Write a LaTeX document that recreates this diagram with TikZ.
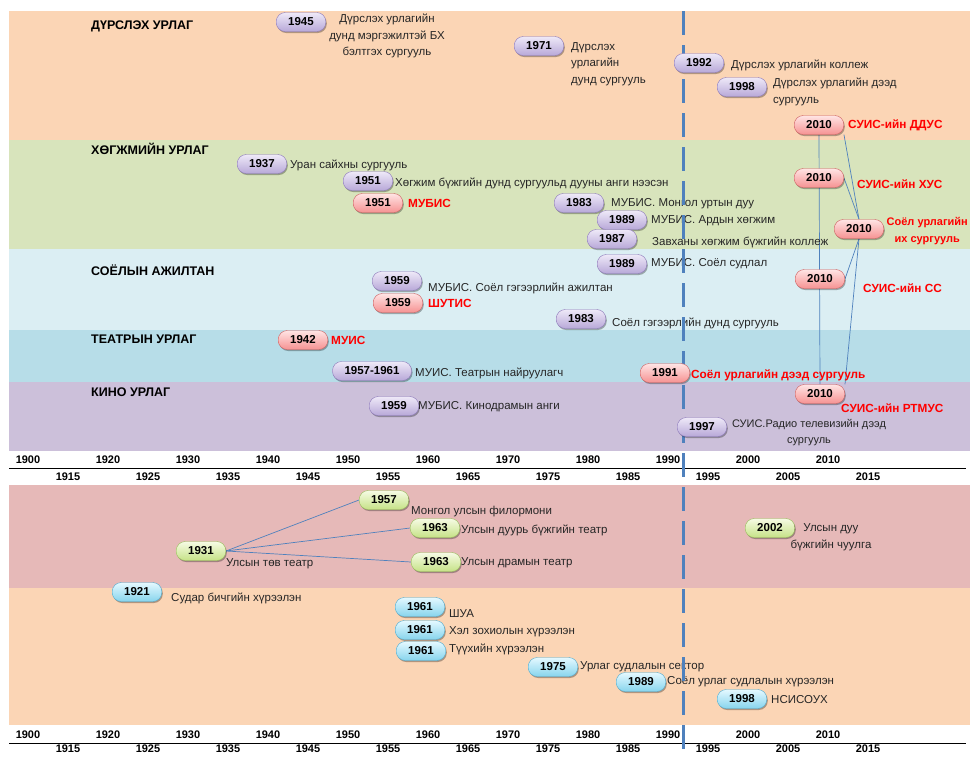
\documentclass[tikz,border=0pt]{standalone}
\usepackage{fontspec}
\setmainfont{Liberation Sans}
\usetikzlibrary{shadows}
\definecolor{bandpeach}{RGB}{251,213,181}
\definecolor{bandgreen}{RGB}{216,228,188}
\definecolor{bandsky}{RGB}{219,238,243}
\definecolor{bandblue}{RGB}{183,221,232}
\definecolor{bandlilac}{RGB}{204,192,218}
\definecolor{bandrose}{RGB}{230,185,184}
\definecolor{lineblue}{RGB}{79,129,189}
\definecolor{mnred}{RGB}{255,0,0}
\definecolor{violetA}{RGB}{238,233,248}
\definecolor{violetB}{RGB}{184,168,216}
\definecolor{violetD}{RGB}{140,120,185}
\definecolor{roseA}{RGB}{255,228,228}
\definecolor{roseB}{RGB}{246,146,146}
\definecolor{roseD}{RGB}{205,95,95}
\definecolor{limeA}{RGB}{246,251,228}
\definecolor{limeB}{RGB}{198,226,135}
\definecolor{limeD}{RGB}{150,190,90}
\definecolor{aquaA}{RGB}{228,249,255}
\definecolor{aquaB}{RGB}{135,212,236}
\definecolor{aquaD}{RGB}{80,170,205}
\pgfdeclarelayer{bands}
\pgfdeclarelayer{links}
\pgfsetlayers{bands,links,main}
\tikzset{
  pill/.style={rectangle, rounded corners=9pt, minimum width=48pt, minimum height=19pt,
    inner xsep=12pt, inner ysep=1pt, font=\fontsize{11.5}{13}\selectfont\bfseries,
    drop shadow={shadow xshift=1pt, shadow yshift=-1.5pt, fill=black, opacity=0.3}},
  vpill/.style={pill, draw=violetD, top color=violetA, bottom color=violetB},
  rpill/.style={pill, draw=roseD, top color=roseA, bottom color=roseB},
  gpill/.style={pill, draw=limeD, top color=limeA, bottom color=limeB},
  cpill/.style={pill, draw=aquaD, top color=aquaA, bottom color=aquaB},
  lbl/.style={anchor=west, inner sep=0pt, text=black!85, font=\fontsize{11.5}{16.5}\selectfont},
  rlbl/.style={lbl, text=mnred, font=\fontsize{11.8}{17.5}\selectfont\bfseries},
  grp/.style={anchor=west, inner sep=0pt, font=\fontsize{12.5}{14}\selectfont\bfseries},
  yr/.style={inner sep=0pt, font=\fontsize{11}{13}\selectfont\bfseries},
  link/.style={lineblue, line width=0.7pt}
}
\begin{document}
\begin{tikzpicture}[x=1pt, y=-1pt]
    \useasboundingbox (0,0) rectangle (970,756);
    \clip (0,0) rectangle (970,756);
    % bands
    \begin{pgfonlayer}{bands}
    \fill[bandpeach] (9,11) rectangle (970,140);
    \fill[bandgreen] (9,140) rectangle (970,249);
    \fill[bandsky] (9,249) rectangle (970,330);
    \fill[bandblue] (9,330) rectangle (970,382);
    \fill[bandlilac] (9,382) rectangle (970,451);
    \fill[bandrose] (9,485) rectangle (970,588);
    \fill[bandpeach] (9,588) rectangle (970,725);
    \end{pgfonlayer}
    \node[grp] (gdur) at (91,26) {ДҮРСЛЭХ УРЛАГ};
    \node[grp] (ghog) at (91,149) {ХӨГЖМИЙН УРЛАГ};
    \node[grp] (gsoy) at (91,270) {СОЁЛЫН АЖИЛТАН};
    \node[grp] (gtea) at (91,339) {ТЕАТРЫН УРЛАГ};
    \node[grp] (gkin) at (91,392) {КИНО УРЛАГ};
    % year axes
    \foreach \ty/\tb in {0/0,275/272} {
      \node[yr] (a\ty-1900) at (28,460+\ty) {1900};
      \foreach \yy [count=\k from 0] in {1920,1930,...,2010}
        \node[yr] (a\ty-\yy) at (108+80*\k,460+\ty) {\yy};
      \foreach \yy [count=\k from 0] in {1915,1925,...,2015}
        \node[yr] (a\ty-\yy) at (68+80*\k,477+\tb) {\yy};
      \draw[line width=1pt] (9,468+\ty) -- (966,468+\ty);
    }
    % labels
    \node[lbl, anchor=center, align=center] (l45) at (387,36) {Дүрслэх урлагийн\\дунд мэргэжилтэй БХ\\бэлтгэх сургууль};
    \node[lbl, align=left] (l71) at (571,64) {Дүрслэх\\урлагийн\\дунд сургууль};
    \node[lbl] (l92) at (731,65) {Дүрслэх урлагийн коллеж};
    \node[lbl, align=left] (l98) at (773,92) {Дүрслэх урлагийн дээд\\сургууль};
    \node[rlbl] (lddus) at (848,125) {СУИС-ийн ДДУС};
    \node[lbl] (l37) at (290,165) {Уран сайхны сургууль};
    \node[lbl] (l51) at (395,183) {Хөгжим бүжгийн дунд сургуульд дууны анги нээсэн};
    \node[rlbl] (lmubis) at (408,203) {МУБИС};
    \node[lbl] (l83) at (611,204) {МУБИС. Монгол уртын дуу};
    \node[lbl] (l89) at (651,221) {МУБИС. Ардын хөгжим};
    \node[lbl] (l87) at (652,242) {Завханы хөгжим бүжгийн коллеж};
    \node[rlbl] (lhus) at (857,184) {СУИС-ийн ХУС};
    \node[rlbl, anchor=east, align=center, font=\fontsize{11}{17.5}\selectfont\bfseries] (lsuis) at (968,231) {Соёл урлагийн\\их сургууль};
    \node[lbl] (ls89) at (651,264) {МУБИС. Соёл судлал};
    \node[lbl] (ls59) at (428,288) {МУБИС. Соёл гэгээрлийн ажилтан};
    \node[rlbl] (lshutis) at (428,303) {ШУТИС};
    \node[lbl] (ls83) at (612,323) {Соёл гэгээрлийн дунд сургууль};
    \node[rlbl] (lss) at (863,288) {СУИС-ийн СС};
    \node[rlbl] (lmuis) at (331,340) {МУИС};
    \node[lbl] (lt57) at (415,373) {МУИС. Театрын найруулагч};
    \node[rlbl] (lt91) at (691,375) {Соёл урлагийн дээд сургууль};
    \node[lbl] (lk59) at (418,407) {МУБИС. Кинодрамын анги};
    \node[rlbl] (lrtmus) at (841,408) {СУИС-ийн РТМУС};
    \node[lbl, anchor=center, align=center, font=\fontsize{11}{16}\selectfont] (lk97) at (809,433) {СУИС.Радио телевизийн дээд\\сургууль};
    \node[lbl] (ltov) at (226,564) {Улсын төв театр};
    \node[lbl] (lfil) at (411,512) {Монгол улсын филормони};
    \node[lbl] (lduur) at (461,530) {Улсын дуурь бүжгийн театр};
    \node[lbl] (ldram) at (461,563) {Улсын драмын театр};
    \node[lbl, anchor=center, align=center] (lchuulga) at (831,537) {Улсын дуу\\бүжгийн чуулга};
    \node[lbl] (lsudar) at (171,598) {Судар бичгийн хүрээлэн};
    \node[lbl] (lshua) at (449,614) {ШУА};
    \node[lbl] (lkhel) at (449,632) {Хэл зохиолын хүрээлэн};
    \node[lbl] (ltuukh) at (449,649) {Түүхийн хүрээлэн};
    \node[lbl] (lsektor) at (580,667) {Урлаг судлалын сектор};
    \node[lbl] (lsoyol) at (667,682) {Соёл урлаг судлалын хүрээлэн};
    \node[lbl] (lnsis) at (771,700) {НСИСОУХ};
    % 1992 marker
    \draw[lineblue, line width=3pt, dash pattern=on 24pt off 10pt] (683,11) -- (683,756);
    % pills
    \node[vpill] (d45) at (301,22) {1945};
    \node[vpill] (d71) at (539,46) {1971};
    \node[vpill] (d92) at (699,63) {1992};
    \node[vpill] (d98) at (742,87) {1998};
    \node[rpill] (ddus) at (819,125) {2010};
    \node[vpill] (h37) at (262,164) {1937};
    \node[vpill] (h51) at (368,181) {1951};
    \node[rpill] (mubis) at (378,203) {1951};
    \node[vpill] (h83) at (579,203) {1983};
    \node[vpill] (h89) at (622,220) {1989};
    \node[vpill] (h87) at (612,239) {1987};
    \node[rpill] (hus) at (819,178) {2010};
    \node[rpill] (suis) at (859,229) {2010};
    \node[vpill] (s89) at (622,264) {1989};
    \node[vpill] (s59) at (397,281) {1959};
    \node[rpill] (shutis) at (398,303) {1959};
    \node[vpill] (s83) at (581,319) {1983};
    \node[rpill] (ss) at (820,279) {2010};
    \node[rpill] (muis) at (303,340) {1942};
    \node[vpill] (t57) at (372,371) {1957-1961};
    \node[rpill] (t91) at (665,373) {1991};
    \node[vpill] (k59) at (394,406) {1959};
    \node[rpill] (rtmus) at (820,394) {2010};
    \node[vpill] (k97) at (702,427) {1997};
    \node[gpill] (tov) at (201,551) {1931};
    \node[gpill] (fil) at (384,500) {1957};
    \node[gpill] (duur) at (435,528) {1963};
    \node[gpill] (dram) at (436,562) {1963};
    \node[gpill] (chuulga) at (770,528) {2002};
    \node[cpill] (sudar) at (137,592) {1921};
    \node[cpill] (shua) at (420,607) {1961};
    \node[cpill] (khel) at (420,630) {1961};
    \node[cpill] (tuukh) at (421,651) {1961};
    \node[cpill] (sektor) at (553,667) {1975};
    \node[cpill] (soyol) at (641,682) {1989};
    \node[cpill] (nsisouh) at (742,699) {1998};
    % links
    \begin{pgfonlayer}{links}
    \draw[link] (tov.east) -- (fil.west);
    \draw[link] (tov.east) -- (duur.west);
    \draw[link] (tov.east) -- (dram.west);
    \draw[link] (ddus.south) -- (rtmus.north);
    \draw[link] (suis.north) -- (ddus.south east);
    \draw[link] (suis.north) -- (hus.east);
    \draw[link] (suis.south) -- (ss.east);
    \draw[link] (suis.south) -- (rtmus.north east);
    \end{pgfonlayer}
\end{tikzpicture}
\end{document}
